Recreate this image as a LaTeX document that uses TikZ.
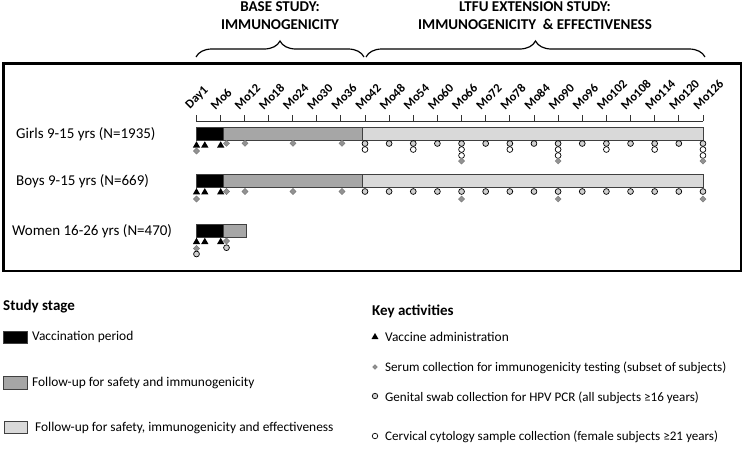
\documentclass[tikz,border=0pt]{standalone}
\usepackage{fontspec}
\setmainfont{Carlito}
\usetikzlibrary{shapes.geometric,decorations.pathreplacing,positioning}
\definecolor{FollowGrey}{HTML}{A6A6A6}
\definecolor{LtfuGrey}{HTML}{D9D9D9}
\definecolor{SerumGrey}{HTML}{929292}
\definecolor{SwabGrey}{HTML}{D0D0D0}

\begin{document}
\begin{tikzpicture}[x=1pt,y=-1pt,
    bar/.style={draw=black!75,line width=0.9pt},
    vac/.style={regular polygon,regular polygon sides=3,fill=black,inner sep=0pt,minimum size=8.5pt},
    serum/.style={diamond,fill=SerumGrey,draw=black!55,line width=0.3pt,inner sep=0pt,minimum size=6.3pt},
    swab/.style={circle,draw=black,fill=SwabGrey,line width=0.7pt,inner sep=0pt,minimum size=5.8pt},
    cyto/.style={swab,fill=white},
    rowlabel/.style={anchor=west,inner sep=0pt,font=\fontsize{15}{18}\selectfont},
    ticklabel/.style={anchor=south west,rotate=45,inner sep=0pt,font=\bfseries\fontsize{12.5}{14}\selectfont},
    header/.style={align=center,font=\bfseries\fontsize{15}{18}\selectfont},
    legendhead/.style={anchor=west,inner sep=0pt,font=\bfseries\fontsize{15}{18}\selectfont},
    legendtext/.style={anchor=west,inner sep=0pt,font=\fontsize{13.4}{16}\selectfont}]

  \useasboundingbox (0,0) rectangle (746,448);

  % study headers and braces
  \node[header] (base) at (280,16) {BASE STUDY:\\IMMUNOGENICITY};
  \node[header] (ltfu) at (535,16) {LTFU EXTENSION STUDY:\\IMMUNOGENICITY \ \& EFFECTIVENESS};
  \coordinate (b1) at (196,57);
  \coordinate (b2) at (364,57);
  \coordinate (l1) at (366,57);
  \coordinate (l2) at (705,57);
  \draw[decorate,decoration={brace,amplitude=16pt},line width=1.2pt] (b1) -- (b2);
  \draw[decorate,decoration={brace,amplitude=16pt},line width=1.2pt] (l1) -- (l2);

  % frame
  \draw[line width=2.6pt] (3.5,63.5) rectangle (741,271);

  % time axis
  \draw[black!80,line width=0.8pt] (196,121) -- (703,121);
  \foreach \lab [count=\k from 0] in {Day1,Mo6,Mo12,Mo18,Mo24,Mo30,Mo36,Mo42,Mo48,Mo54,Mo60,Mo66,Mo72,Mo78,Mo84,Mo90,Mo96,Mo102,Mo108,Mo114,Mo120,Mo126} {
    \pgfmathsetmacro\tx{196+24.14*\k}
    \draw[black!80,line width=0.8pt] (\tx,121) -- ++(0,-6);
    \node[ticklabel] (t\k) at (\tx-4.5,111) {\lab};
  }

  % rows
  \node[rowlabel] (girls) at (16,134.5) {Girls 9-15 yrs (N=1935)};
  \node[rowlabel] (boys) at (16,181.5) {Boys 9-15 yrs (N=669)};
  \node[rowlabel] (women) at (12,231.5) {Women 16-26 yrs (N=470)};

  \filldraw[bar,fill=black] (196,127) rectangle (223,140.5);
  \filldraw[bar,fill=FollowGrey] (223,127) rectangle (362,140.5);
  \filldraw[bar,fill=LtfuGrey] (362,127) rectangle (703,140.5);

  \filldraw[bar,fill=black] (196,174) rectangle (223,187.5);
  \filldraw[bar,fill=FollowGrey] (223,174) rectangle (362,187.5);
  \filldraw[bar,fill=LtfuGrey] (362,174) rectangle (703,187.5);

  \filldraw[bar,fill=black] (196,224) rectangle (223,237.5);
  \filldraw[bar,fill=FollowGrey] (223,224) rectangle (246.5,237.5);

  % vaccinations
  \foreach \vx [count=\i] in {196.5,204.8,220.7} {
    \node[vac] (g-v\i) at (\vx,145.5) {};
    \node[vac] (b-v\i) at (\vx,192.3) {};
    \node[vac] (w-v\i) at (\vx,242) {};
  }
  \node[serum] (g-s0) at (196.5,151) {};
  \node[serum] (b-s0) at (196.5,199) {};
  \node[serum] (w-s0) at (196.5,248.5) {};
  \node[swab] (w-c0) at (196.5,254) {};

  % base study visits
  \foreach \sx [count=\i] in {226.5,245,293,342} {
    \node[serum] (g-s\i) at (\sx,143.3) {};
    \node[serum] (b-s\i) at (\sx,191.5) {};
  }
  \node[serum] (w-s1) at (226.5,241) {};
  \node[swab] (w-c1) at (226.5,247.7) {};

  % extension visits
  \foreach \k in {7,...,21} {
    \pgfmathsetmacro\vx{196+24.14*\k}
    \node[swab] (g-c\k) at (\vx,143.5) {};
    \node[swab] (b-c\k) at (\vx,191.5) {};
  }
  \foreach \k in {7,9,...,21} {
    \pgfmathsetmacro\vx{196+24.14*\k}
    \node[cyto] (g-d\k) at (\vx,149.5) {};
  }
  \foreach \k in {11,15,21} {
    \pgfmathsetmacro\vx{196+24.14*\k}
    \node[cyto] (g-e\k) at (\vx,155.5) {};
    \node[serum] (g-x\k) at (\vx,161) {};
    \node[serum] (b-x\k) at (\vx,199) {};
  }

  % legend: study stage
  \node[legendhead] (stage) at (3,306) {Study stage};
  \filldraw[bar,fill=black] (3,331) rectangle (27,343);
  \node[legendtext] (vacper) at (32,337) {Vaccination period};
  \filldraw[bar,fill=FollowGrey] (3,376) rectangle (27,389);
  \node[legendtext] (fusafe) at (32,382.5) {Follow-up for safety and immunogenicity};
  \filldraw[bar,fill=LtfuGrey] (4.5,421) rectangle (27,433);
  \node[legendtext] (fueff) at (35,427.5) {Follow-up for safety, immunogenicity and effectiveness};

  % legend: key activities
  \node[legendhead] (key) at (372,311) {Key activities};
  \node[vac,minimum size=8pt] (kv) at (375,337) {};
  \node[legendtext] (kvt) at (385,337) {Vaccine administration};
  \node[serum,minimum size=5pt] (ks) at (375,367) {};
  \node[legendtext,font=\fontsize{13.1}{16}\selectfont] (kst) at (385,368) {Serum collection for immunogenicity testing (subset of subjects)};
  \node[swab,minimum size=5.5pt] (kc) at (375,396) {};
  \node[legendtext,font=\fontsize{13.1}{16}\selectfont] (kct) at (385,397.5) {Genital swab collection for HPV PCR (all subjects ≥16 years)};
  \node[cyto,minimum size=5.5pt] (kd) at (375,436) {};
  \node[legendtext,font=\fontsize{13.1}{16}\selectfont] (kdt) at (385,437) {Cervical cytology sample collection (female subjects ≥21 years)};
\end{tikzpicture}
\end{document}
